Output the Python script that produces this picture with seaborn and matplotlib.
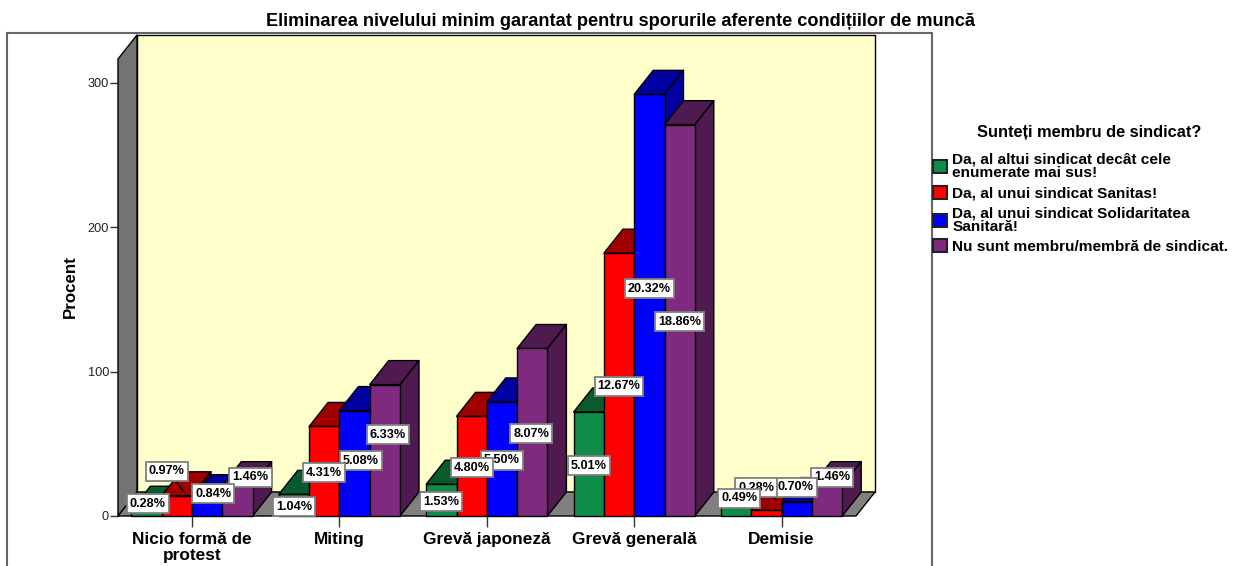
import matplotlib
matplotlib.use("Agg")
import matplotlib.pyplot as plt
import pandas as pd
import seaborn as sns
from matplotlib.patches import Polygon, Rectangle
from matplotlib.path import Path

# ---------- data ----------
categories = ["Nicio formă de\nprotest", "Miting", "Grevă japoneză", "Grevă generală", "Demisie"]
groups = ["Da, al altui sindicat decât cele\nenumerate mai sus!",
          "Da, al unui sindicat Sanitas!",
          "Da, al unui sindicat Solidaritatea\nSanitară!",
          "Nu sunt membru/membră de sindicat."]
alt_sindicat = [4, 15, 22, 72, 7]
sanitas = [14, 62, 69, 182, 4]
solidaritatea = [12, 73, 79, 292, 10]
nemembru = [21, 91, 116, 271, 21]
alt_pct = ["0.28%", "1.04%", "1.53%", "5.01%", "0.49%"]
sanitas_pct = ["0.97%", "4.31%", "4.80%", "12.67%", "0.28%"]
solidaritatea_pct = ["0.84%", "5.08%", "5.50%", "20.32%", "0.70%"]
nemembru_pct = ["1.46%", "6.33%", "8.07%", "18.86%", "1.46%"]
y_ticks = [0, 100, 200, 300]
title = "Eliminarea nivelului minim garantat pentru sporurile aferente condițiilor de muncă"
legend_title = "Sunteți membru de sindicat?"
y_label = "Procent"

# ---------- style ----------
W, H = 1239, 566
front = ["#0F8C4A", "#FF0000", "#0000FF", "#7F2A7F"]
dark = ["#0A5A2E", "#A00000", "#0000A0", "#4F1A4F"]
FONT = "Liberation Sans"
AX_L, AX_R, AX_B, AX_T = 118, 875, 516, 35     # axes box, pixels
CAT_STEP, CAT0 = 147.4, 192                   # pixels per category, first centre
UNIT = 1.444                                  # pixels per value unit
DEPTH_X, DEPTH_Y = 19 / CAT_STEP, 24 / UNIT   # 3-D depth in data units
PX_X, PX_Y = 1 / CAT_STEP, 1 / UNIT
# label shift from the middle of the bar front, pixels (right, up); per group, per category
label_shift = [
    [(1, 11), (0, 0), (0, 0), (0, 0), (3, 14)],
    [(-10, 36), (0, 0), (0, 0), (0, 0), (-10, 27)],
    [(6, 15), (6, 4), (0, 0), (0, 18), (-1, 23)],
    [(13, 25), (3, 17), (-1, 0), (0, 0), (5, 25)],
]
leaders = {(1, 0): (8, 3), (1, 4): (10, 10)}  # leader end from bar's top centre, pixels


def label_box(x0, y0, width, height, fontsize):
    """Box a little wider than the text and a fixed 19 px tall, as in the reference."""
    cy = y0 + height / 2
    l, r, b, t = x0 - 3, x0 + width + 3, cy - 9.5, cy + 9.5
    return Path([(l, b), (r, b), (r, t), (l, t), (l, b)], closed=True)


sns.set_theme(style="white")
plt.rcParams["font.family"] = [FONT, "DejaVu Sans"]

df = pd.DataFrame({
    "cat": categories * 4,
    "grp": [g for g in groups for _ in categories],
    "val": alt_sindicat + sanitas + solidaritatea + nemembru,
})

fig = plt.figure(figsize=(W / 100, H / 100), dpi=100, facecolor="white")
ax = fig.add_axes([AX_L / W, 1 - AX_B / H, (AX_R - AX_L) / W, (AX_B - AX_T) / H])
sns.barplot(data=df, x="cat", y="val", hue="grp", order=categories, hue_order=groups,
            palette=front, width=4 * 30.3 / CAT_STEP, gap=0, dodge=True, saturation=1,
            edgecolor="black", linewidth=1, ax=ax, legend=True, errorbar=None)
handles, labels = ax.get_legend_handles_labels()
ax.get_legend().remove()

xl, xr = (AX_L - CAT0) / CAT_STEP, (AX_R - CAT0) / CAT_STEP
yt = (AX_B - AX_T) / UNIT
ax.set_xlim(xl, xr)
ax.set_ylim(0, yt)
ax.set_facecolor("none")
for s in ax.spines.values():
    s.set_visible(False)


def face(pts, color, z):
    ax.add_patch(Polygon(pts, closed=True, facecolor=color, edgecolor="black",
                         linewidth=1, zorder=z, clip_on=False, joinstyle="round"))


# walls and floor
face([(xl + DEPTH_X, DEPTH_Y), (xr, DEPTH_Y), (xr, yt), (xl + DEPTH_X, yt)], "#FFFFCC", 0.5)
face([(xl, 0), (xl + DEPTH_X, DEPTH_Y), (xl + DEPTH_X, yt), (xl, yt - DEPTH_Y)], "#737373", 0.6)
face([(xl, 0), (xr - DEPTH_X, 0), (xr, DEPTH_Y), (xl + DEPTH_X, DEPTH_Y)], "#808080", 0.6)

# 3-D faces, painted left to right so that later bars cover earlier sides
pcts = [alt_pct, sanitas_pct, solidaritatea_pct, nemembru_pct]
for g, cont in enumerate(ax.containers):
    for c, bar in enumerate(cont):
        x0, w, h = bar.get_x(), bar.get_width(), bar.get_height()
        x1 = x0 + w
        z = 2 + c * 10 + g
        bar.set_zorder(z + 0.5)
        bar.set_clip_on(False)
        face([(x0, h), (x1, h), (x1 + DEPTH_X, h + DEPTH_Y), (x0 + DEPTH_X, h + DEPTH_Y)], dark[g], z)
        face([(x1, 0), (x1, h), (x1 + DEPTH_X, h + DEPTH_Y), (x1 + DEPTH_X, DEPTH_Y)], dark[g], z)
        sx, sy = label_shift[g][c]
        tx, ty = x0 + w / 2 + sx * PX_X, h / 2 + sy * PX_Y
        if (g, c) in leaders:
            lx, ly = leaders[(g, c)]
            ax.annotate("", xy=(x0 + w / 2 + lx * PX_X, h + ly * PX_Y), xytext=(tx, ty),
                        arrowprops=dict(arrowstyle="-", color="black", lw=1, shrinkA=0, shrinkB=0),
                        zorder=100)
        ax.text(tx, ty, pcts[g][c], ha="center", va="center_baseline", fontsize=9.1, fontweight="bold",
                color="black", zorder=200 - 10 * g,
                bbox=dict(boxstyle=label_box, facecolor="white", edgecolor="#808080", linewidth=1.3))

# axes furniture
ax.set_yticks(y_ticks)
ax.set_xticks(range(len(categories)))
ax.set_xticklabels(categories, fontsize=12.4, fontweight="bold", color="black", linespacing=1.12)
ax.tick_params(axis="y", length=5.8, width=1, color="#333333", labelsize=9.2, labelcolor="#222222", pad=0.6, left=True)
ax.tick_params(axis="x", length=7.7, width=1, color="#333333", pad=3.5, bottom=True)
ax.set_xlabel("")
ax.set_ylabel(y_label, fontsize=12.2, fontweight="bold", color="black", va="center")
ax.yaxis.set_label_coords((70 - AX_L) / (AX_R - AX_L), (AX_B - 287) / (AX_B - AX_T))
ax.set_title(title, x=(620 - AX_L) / (AX_R - AX_L), y=(AX_B - 22) / (AX_B - AX_T), va="center",
             fontsize=13.1, fontweight="bold", color="black", pad=0)

# legend
leg = ax.legend(handles, labels, title=legend_title, loc="upper left",
                bbox_to_anchor=(933 / W, 1 - 125 / H), bbox_transform=fig.transFigure,
                frameon=False, borderpad=0, borderaxespad=0, handlelength=0.9, handleheight=0.9,
                handletextpad=0.35, labelspacing=0.36,
                prop=dict(family=FONT, weight="bold", size=11.1),
                title_fontproperties=dict(family=FONT, weight="bold", size=11.8))
leg.get_title().set_color("black")
leg.get_title().set_x(9)
for t in leg.get_texts():
    t.set_linespacing(0.98)
    t.set_color("black")
for p in leg.get_patches():
    p.set_edgecolor("#222222")
    p.set_linewidth(1.5)
leg._legend_box.sep = 9

# outer frame, running off the bottom of the picture
fig.add_artist(Rectangle((7 / W, -0.1), (932 - 7) / W, 1.1 - 33 / H, transform=fig.transFigure,
                         fill=False, edgecolor="#666666", linewidth=1.5, zorder=-1))

fig.savefig("out.png", dpi=100, facecolor="white")
